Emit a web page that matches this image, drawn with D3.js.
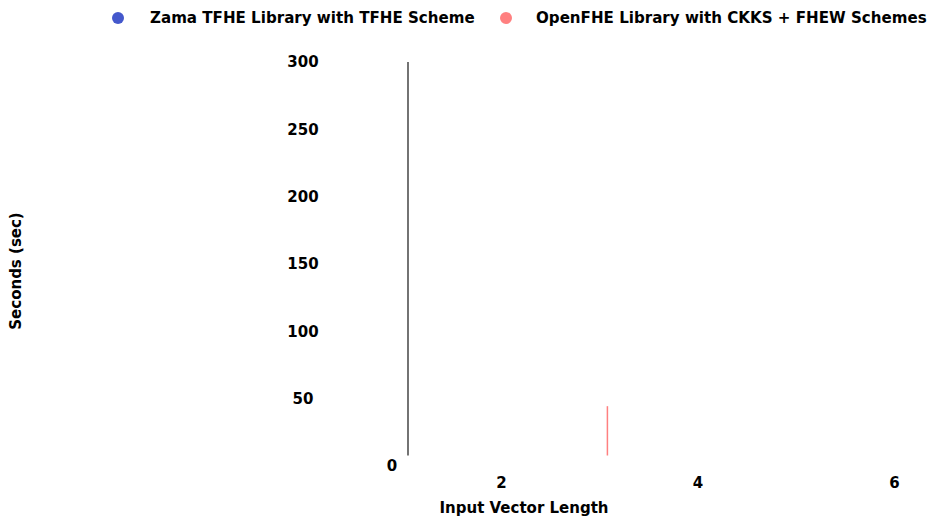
<!DOCTYPE html>
<html>
<head>
<meta charset="utf-8">
<script src="https://cdn.jsdelivr.net/npm/d3@7"></script>
<style>
  html, body { margin: 0; padding: 0; background: #fff; }
  svg { display: block; font-family: "DejaVu Sans", sans-serif; font-weight: bold; }
</style>
</head>
<body>
<svg id="chart" width="928" height="516"></svg>
<script>
// ---- data ----
const seriesNames = ["Zama TFHE Library with TFHE Scheme", "OpenFHE Library with CKKS + FHEW Schemes"];
const seriesColors = ["#4458cc", "#ff8080"];
const vectorLengths = [3];
const openfheSeconds = [37.6];
const yTicks = [0, 50, 100, 150, 200, 250, 300];
const xTicks = [2, 4, 6];

const svg = d3.select("#chart");

// scales
const x = d3.scaleLinear().domain([1.05, 6.3]).range([408, 924]);
const y = d3.scaleLinear().domain([0, 300]).range([455.5, 62]);
const yLabel = d3.scaleLinear().domain([0, 300]).range([466, 62]);

// y axis line
svg.append("line")
  .attr("x1", x(1.05)).attr("x2", x(1.05))
  .attr("y1", y(300)).attr("y2", y(0))
  .attr("stroke", "#000").attr("stroke-width", 1.1);

// y tick labels
svg.append("g").selectAll("text").data(yTicks).join("text")
  .attr("x", d => d === 0 ? 392 : 303)
  .attr("y", d => yLabel(d))
  .attr("dy", "0.35em")
  .attr("text-anchor", "middle")
  .attr("font-size", 15)
  .attr("fill", "#000")
  .text(d => d);

// x tick labels
svg.append("g").selectAll("text").data(xTicks).join("text")
  .attr("x", d => x(d))
  .attr("y", 483)
  .attr("dy", "0.35em")
  .attr("text-anchor", "middle")
  .attr("font-size", 15)
  .attr("fill", "#000")
  .text(d => d);

// bars (OpenFHE)
svg.append("g").selectAll("rect").data(vectorLengths).join("rect")
  .attr("x", d => x(d) + 7)
  .attr("width", 1.5)
  .attr("y", (d, i) => y(openfheSeconds[i]))
  .attr("height", (d, i) => y(0) - y(openfheSeconds[i]))
  .attr("fill", seriesColors[1]);

// axis titles
svg.append("text")
  .attr("x", 524).attr("y", 508).attr("dy", "0.35em")
  .attr("text-anchor", "middle").attr("font-size", 15)
  .text("Input Vector Length");

svg.append("text")
  .attr("transform", "translate(16,271) rotate(-90)")
  .attr("dy", "0.35em")
  .attr("text-anchor", "middle").attr("font-size", 15)
  .text("Seconds (sec)");

// legend
const legendX = [118, 506];
const lg = svg.append("g").selectAll("g").data(seriesNames).join("g")
  .attr("transform", (d, i) => `translate(${legendX[i]},18)`);
lg.append("circle").attr("r", 6).attr("fill", (d, i) => seriesColors[i]);
lg.append("text")
  .attr("x", (d, i) => i === 0 ? 32 : 30).attr("y", 0).attr("dy", "0.35em")
  .attr("font-size", 15.1)
  .text(d => d);
</script>
</body>
</html>
